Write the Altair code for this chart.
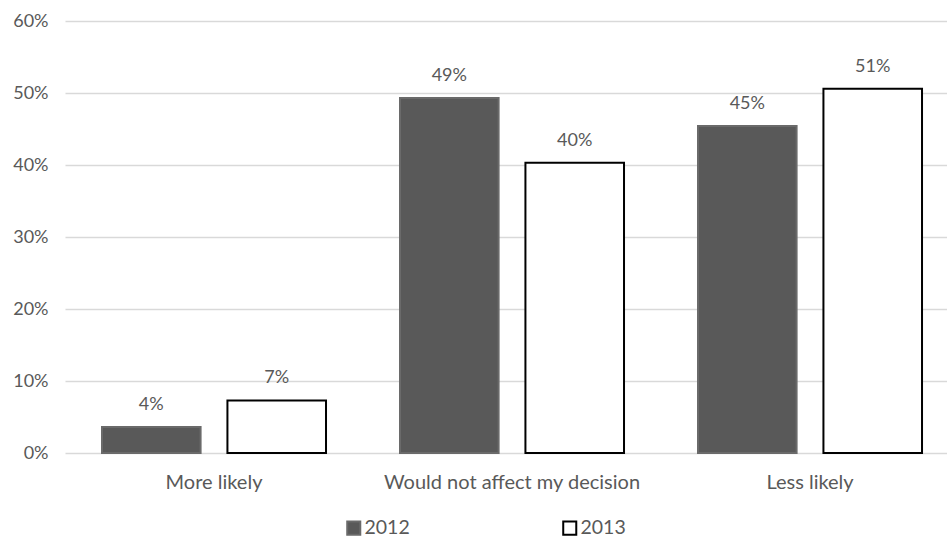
import altair as alt
import pandas as pd

# Survey responses by year (percent of respondents)
categories = ["More likely", "Would not affect my decision", "Less likely"]
years = ["2012", "2013"]
values_2012 = [3.6, 49.3, 45.4]
values_2013 = [7.3, 40.3, 50.6]
y_ticks = [0, 10, 20, 30, 40, 50, 60]

rows = []
for cat, v12, v13 in zip(categories, values_2012, values_2013):
    rows.append({"category": cat, "year": years[0], "value": v12})
    rows.append({"category": cat, "year": years[1], "value": v13})
df = pd.DataFrame(rows)

FONT = "Lato"
TEXT = "#595959"

x_enc = alt.X(
    "category:N",
    sort=categories,
    scale=alt.Scale(paddingInner=0.2483, paddingOuter=0.104, align=0.597),
    axis=alt.Axis(
        title=None, labelAngle=0, ticks=False, domain=False, labelLimit=0,
        labelFontSize=20, labelColor=TEXT, labelFont=FONT, labelPadding=19,
    ),
)
xoff_enc = alt.XOffset("year:N", sort=years, scale=alt.Scale(paddingInner=0.214, paddingOuter=0))
y_enc = alt.Y(
    "value:Q",
    scale=alt.Scale(domain=[0, 60], nice=False),
    axis=alt.Axis(
        title=None, values=y_ticks, labelExpr="datum.value + '%'",
        ticks=False, domain=False, grid=True, gridColor="#d9d9d9", gridWidth=1.5,
        labelFontSize=18, labelColor=TEXT, labelFont=FONT, labelPadding=17,
    ),
)

bars = alt.Chart(df).mark_bar(strokeWidth=2).encode(
    x=x_enc,
    xOffset=xoff_enc,
    y=y_enc,
    fill=alt.Fill(
        "year:N",
        sort=years,
        scale=alt.Scale(domain=years, range=["#595959", "#ffffff"]),
        legend=alt.Legend(
            title=None, orient="none", direction="horizontal",
            legendX=279, legendY=497,
            symbolType="square", symbolSize=170, symbolStrokeWidth=2,
            labelFontSize=19.5, labelColor=TEXT, labelFont=FONT,
            labelOffset=1, columnPadding=149,
        ),
    ),
    stroke=alt.Stroke(
        "year:N",
        sort=years,
        scale=alt.Scale(domain=years, range=["#6a6a6a", "#000000"]),
    ),
)

labels = alt.Chart(df).transform_calculate(
    label="format(datum.value, '.0f') + '%'"
).mark_text(
    baseline="bottom", dy=-13, fontSize=18, font=FONT, color=TEXT
).encode(
    x=alt.X("category:N", sort=categories),
    xOffset=alt.XOffset("year:N", sort=years),
    y=alt.Y("value:Q"),
    text="label:N",
)

chart = alt.layer(bars, labels).properties(
    width=882,
    height=432,
    autosize=alt.AutoSizeParams(type="none"),
    padding={"left": 65, "top": 21, "right": 0, "bottom": 87},
    background="#ffffff",
).configure_view(stroke=None)

chart.save("out.html", embed_options={"renderer": "svg", "actions": False})
